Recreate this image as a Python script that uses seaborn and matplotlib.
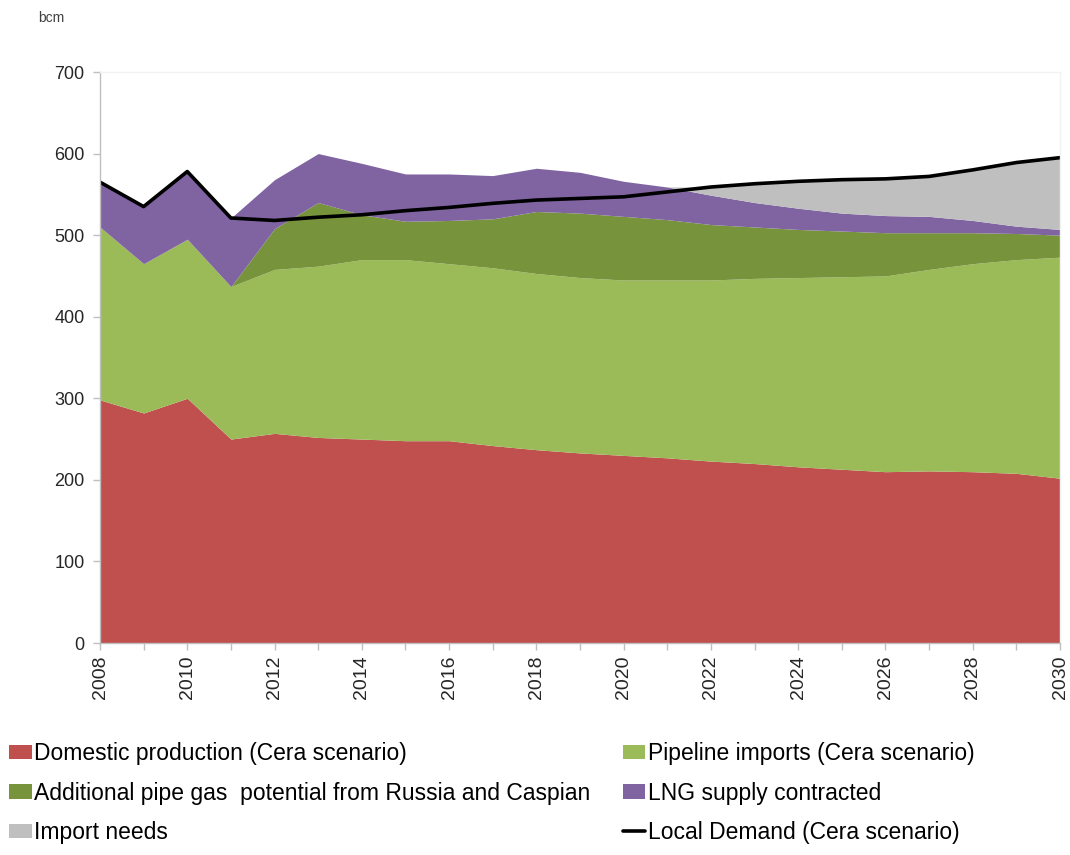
import matplotlib
matplotlib.use("Agg")
import matplotlib.pyplot as plt
import seaborn as sns
import pandas as pd
from matplotlib.patches import Patch
from matplotlib.lines import Line2D

# Gas balance, bcm per year
years = list(range(2008, 2031))
domestic = [298, 282, 300, 250, 257, 252, 250, 248, 248, 242, 237, 233,
            230, 227, 223, 220, 216, 213, 210, 211, 210, 208, 202]
pipeline = [212, 183, 195, 187, 201, 210, 220, 222, 217, 218, 216, 215,
            215, 218, 222, 227, 232, 236, 240, 247, 255, 262, 271]
additional = [0, 0, 0, 0, 50, 78, 55, 47, 53, 60, 76, 79,
              78, 74, 68, 63, 59, 56, 53, 45, 38, 32, 27]
lng = [55, 70, 83, 84, 60, 60, 63, 58, 57, 53, 53, 50,
       43, 40, 36, 30, 26, 22, 21, 20, 15, 9, 7]
import_needs = [0, 0, 0, 0, 0, 0, 0, 0, 0, 0, 0, 0,
                0, 0, 10, 23, 33, 41, 45, 49, 62, 78, 88]
demand = [565, 535, 578, 521, 518, 522, 525, 530, 534, 539, 543, 545,
          547, 553, 559, 563, 566, 568, 569, 572, 580, 589, 595]

series_labels = ["Domestic production (Cera scenario)",
                 "Pipeline imports (Cera scenario)",
                 "Additional pipe gas  potential from Russia and Caspian",
                 "LNG supply contracted",
                 "Import needs"]
demand_label = "Local Demand (Cera scenario)"
series_colors = ["#C0504D", "#9BBB59", "#77933C", "#8064A2", "#BFBFBF"]

sns.set_theme(style="white")
plt.rcParams["font.family"] = ["Liberation Sans", "DejaVu Sans"]

text_color = "#262626"
axis_gray = "#BFBFBF"

fig = plt.figure(figsize=(10.7, 8.55), dpi=100)
ax = fig.add_axes([100 / 1070, 1 - 643 / 855, 960 / 1070, 571 / 855])

ax.stackplot(years, domestic, pipeline, additional, lng, import_needs,
             colors=series_colors, linewidth=0)

df = pd.DataFrame({"year": years, "demand": demand})
sns.lineplot(data=df, x="year", y="demand", color="black", linewidth=2.6, ax=ax)

ax.set_xlim(2008, 2030)
ax.set_ylim(0, 700)
ax.set_xlabel("")
ax.set_ylabel("")

ax.set_yticks(range(0, 701, 100))
ax.set_xticks(range(2008, 2031, 2))
ax.set_xticks(years, minor=True)
ax.tick_params(axis="both", which="both", direction="out", length=5,
               width=1, color=axis_gray, labelcolor=text_color,
               bottom=True, left=True)
ax.tick_params(axis="y", labelsize=13, pad=6)
ax.tick_params(axis="x", labelsize=14, pad=4)
for lab in ax.get_xticklabels():
    lab.set_rotation(90)

for side in ["left", "bottom"]:
    ax.spines[side].set_color(axis_gray)
    ax.spines[side].set_linewidth(1)
for side in ["top", "right"]:
    ax.spines[side].set_color("#F2F2F2")
    ax.spines[side].set_linewidth(1)

fig.text(38 / 1070, 1 - 18 / 855, "bcm", fontsize=10, color="#404040",
         va="center", ha="left")

# Legend laid out row by row in two columns
handles = [Patch(facecolor=c, edgecolor="none") for c in series_colors]
handles.append(Line2D([0], [0], color="black", linewidth=2.6))
labels = series_labels + [demand_label]
order = [0, 2, 4, 1, 3, 5]
fig.legend([handles[i] for i in order], [labels[i] for i in order],
           loc="upper left", bbox_to_anchor=(9 / 1070, 1 - 742 / 855),
           ncol=2, frameon=False, fontsize=16.5, handlelength=1.0,
           handleheight=0.6, handletextpad=0.1, columnspacing=1.4,
           labelspacing=0.72, borderpad=0, borderaxespad=0,
           labelcolor="black")

fig.savefig("out.png", dpi=100)
